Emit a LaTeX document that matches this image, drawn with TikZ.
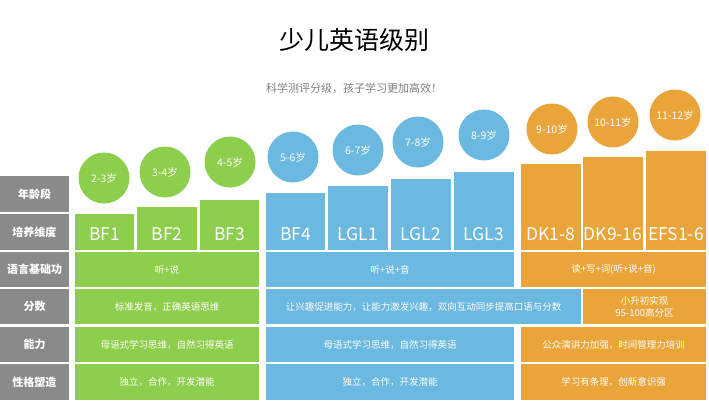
\documentclass[tikz,border=0pt]{standalone}
\usepackage{fontspec}
\setmainfont{Noto Sans CJK SC}
\definecolor{gr}{HTML}{8DCE4C}
\definecolor{bl}{HTML}{6BB9E0}
\definecolor{og}{HTML}{E9A43A}
\definecolor{gy}{HTML}{8A8A8A}
\begin{document}
\begin{tikzpicture}[x=1pt,y=-1pt,
  box/.style={inner sep=0pt,text=white,align=center},
  lab/.style={box,fill=gy,font=\fontsize{11}{13}\selectfont\bfseries},
  big/.style={font=\fontsize{17.5}{20}\selectfont},
  sm/.style={font=\fontsize{9.5}{12}\selectfont},
  age/.style={circle,minimum size=51pt,inner sep=0pt,text=white,font=\fontsize{10.5}{12}\selectfont}]
\useasboundingbox[fill=white] (0,0) rectangle (709,400);
\node[font=\fontsize{25}{28}\selectfont] (t) at (354,40) {少儿英语级别};
\node[text=gray,font=\fontsize{11}{13}\selectfont] (s) at (354,88) {科学测评分级，孩子学习更加高效！};
% left labels
\foreach \n/\a/\b/\t in {l1/176/212/年龄段,l2/214/250/培养维度,l3/252/287/语言基础功,l4/289/324/分数,l5/327/362/能力,l6/364/400/性格塑造}
  \path[fill=gy] (0,\a) rectangle (69,\b) node[lab,midway] (\n) {\t};
% columns
\foreach \n/\x/\w/\tp/\c/\t in {c1/75/59/214/gr/BF1,c2/137/60/207/gr/BF2,c3/200/59/200/gr/BF3,
  c4/266/59/193/bl/BF4,c5/328/60/186/bl/LGL1,c6/391/60/179/bl/LGL2,c7/454/60/172/bl/LGL3,
  c8/521/60/164/og/DK1-8,c9/583/60/157/og/DK9-16,c10/646/60/151/og/EFS1-6}
  \path[fill=\c] (\x,\tp) rectangle ++(\w,250-\tp);
\foreach \n/\x/\w/\t in {c1/75/59/BF1,c2/137/60/BF2,c3/200/59/BF3,c4/266/59/BF4,c5/328/60/LGL1,c6/391/60/LGL2,c7/454/60/LGL3,c8/521/60/DK1-8,c9/583/60/DK9-16,c10/646/60/EFS1-6}
  \node[box,big] (\n) at (\x+\w/2,234) {\t};
% circles
\foreach \n/\x/\y/\c/\t in {a1/104/178/gr/2-3岁,a2/165/172/gr/3-4岁,a3/230/162/gr/4-5岁,
  a4/293/157/bl/5-6岁,a5/358/150/bl/6-7岁,a6/418/142/bl/7-8岁,a7/484/135/bl/8-9岁,
  a8/552/129/og/9-10岁,a9/613/122/og/10-11岁,a10/675/115/og/11-12岁}
  \node[age,fill=\c] (\n) at (\x,\y) {\t};
% rows
\foreach \n/\xa/\xb/\a/\b/\c/\t in {
  r1/75/259/252/287/gr/听+说, r2/75/259/289/324/gr/标准发音，正确英语思维,
  r3/75/259/327/362/gr/母语式学习思维，自然习得英语, r4/75/259/364/400/gr/独立，合作，开发潜能,
  r5/266/514/252/287/bl/听+说+音, r6/266/581/289/324/bl/让兴趣促进能力，让能力激发兴趣，双向互动同步提高口语与分数,
  r7/266/514/327/362/bl/母语式学习思维，自然习得英语, r8/266/514/364/400/bl/独立，合作，开发潜能,
  r9/521/706/252/287/og/读+写+词(听+说+音), r10/583/706/289/324/og/{小升初实现\\95-100高分区},
  r11/521/706/327/362/og/公众演讲力加强，时间管理力培训, r12/521/706/364/400/og/学习有条理，创新意识强}
  \path[fill=\c] (\xa,\a) rectangle (\xb,\b) node[box,sm,midway] (\n) {\t};
\end{tikzpicture}
\end{document}
